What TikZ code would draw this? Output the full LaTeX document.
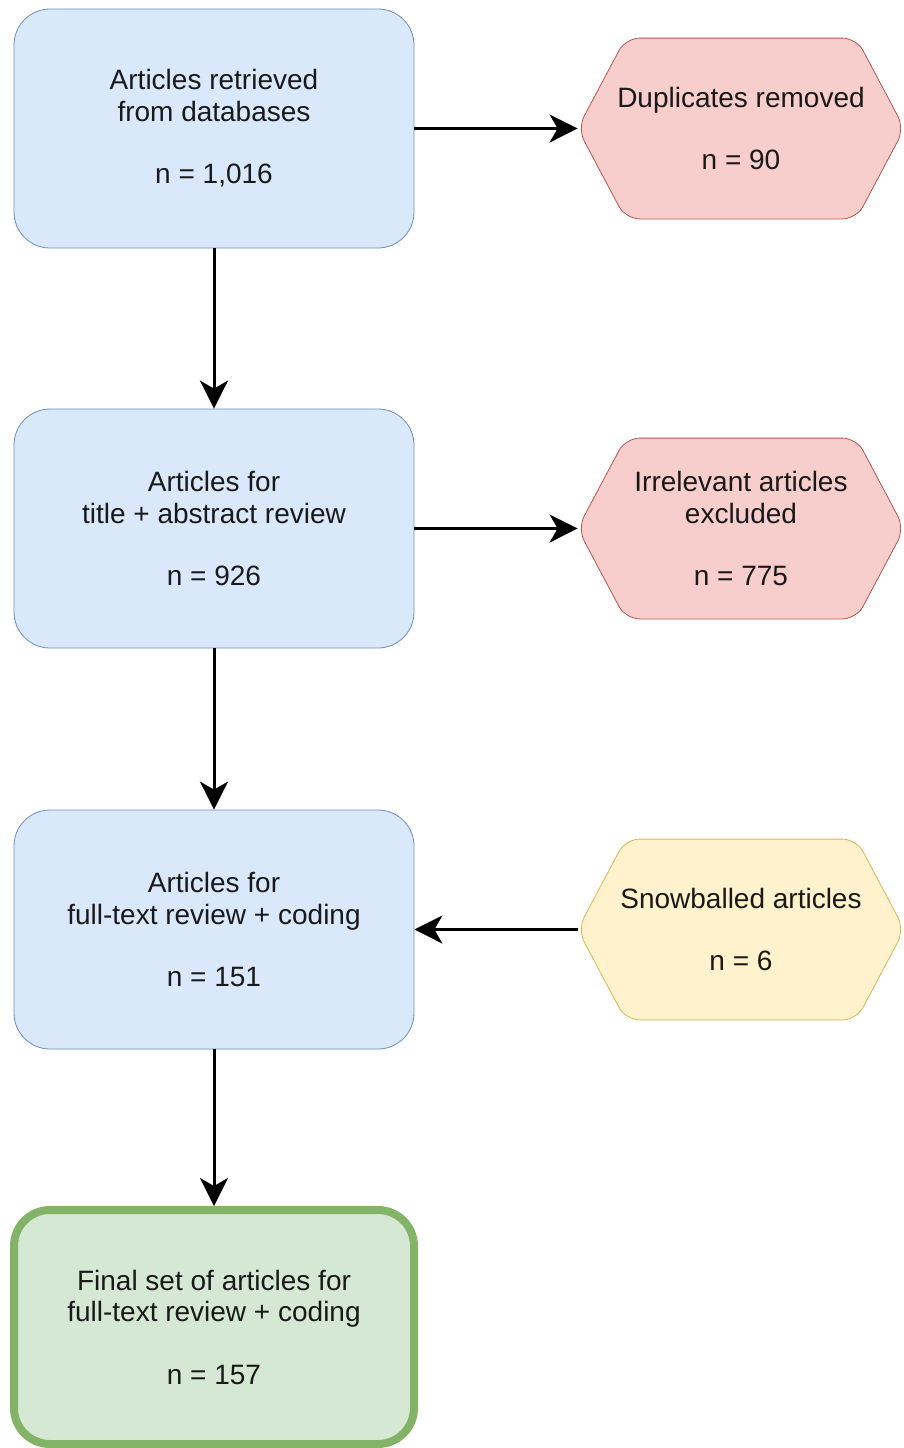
\documentclass[tikz,border=0pt]{standalone}
\usepackage{fontspec}
\setmainfont{Liberation Sans}
\usetikzlibrary{arrows.meta,backgrounds}

\definecolor{bluefill}{HTML}{DAE8FC}
\definecolor{blueline}{HTML}{6C8EBF}
\definecolor{redfill}{HTML}{F8CECC}
\definecolor{redline}{HTML}{B85450}
\definecolor{yellowfill}{HTML}{FFF2CC}
\definecolor{yellowline}{HTML}{D6B656}
\definecolor{greenfill}{HTML}{D5E8D4}
\definecolor{greenline}{HTML}{82B366}

\begin{document}
\begin{tikzpicture}[x=0.5pt,y=-0.5pt,
        every node/.style={align=center,font=\fontsize{14}{15.75}\selectfont,text=black!90},
        stagebox/.style={draw=blueline,fill=bluefill,rounded corners=18pt,
            minimum width=200pt,minimum height=119.5pt},
        sidehex/.style={minimum width=163pt,minimum height=90pt},
        flow/.style={line width=1.5pt,-{Stealth[length=14pt,width=14pt,inset=4pt]}}]
                \useasboundingbox (0, 0) rectangle (904, 1448);

                \node[stagebox] (found) at (214, 128.5) {Articles retrieved\\from databases\\[15.5pt]n = 1,016};
                \node[stagebox] (screen) at (214, 528.5) {Articles for\\title + abstract review\\[15.5pt]n = 926};
                \node[stagebox] (fulltext) at (214, 929.5) {Articles for\\full-text review + coding\\[15.5pt]n = 151};
                \node[stagebox,draw=greenline,fill=greenfill,line width=4pt,minimum height=117pt] (final) at (214, 1327)
                    {Final set of articles for\\full-text review + coding\\[15.5pt]n = 157};

                \node[sidehex] (dups) at (741, 128.5) {Duplicates removed\\[15.5pt]n = 90};
                \node[sidehex] (irrel) at (741, 528.5) {Irrelevant articles\\excluded\\[15.5pt]n = 775};
                \node[sidehex] (snow) at (741, 929.5) {Snowballed articles\\[15.5pt]n = 6};

                % hexagons behind the side nodes
                \begin{scope}[on background layer]
                    \foreach \n/\f/\l in {dups/redfill/redline, irrel/redfill/redline, snow/yellowfill/yellowline}
                        \draw[draw=\l,fill=\f,rounded corners=7pt] (\n.west) -- ([xshift=24pt]\n.north west)
                            -- ([xshift=-24pt]\n.north east) -- (\n.east) -- ([xshift=-24pt]\n.south east)
                            -- ([xshift=24pt]\n.south west) -- cycle;
                \end{scope}

                \draw[flow] (found) -- (dups);
                \draw[flow] (screen) -- (irrel);
                \draw[flow] (snow) -- (fulltext);
                \draw[flow] (found) -- (screen);
                \draw[flow] (screen) -- (fulltext);
                \draw[flow] (fulltext) -- (final);
            \end{tikzpicture}
\end{document}
